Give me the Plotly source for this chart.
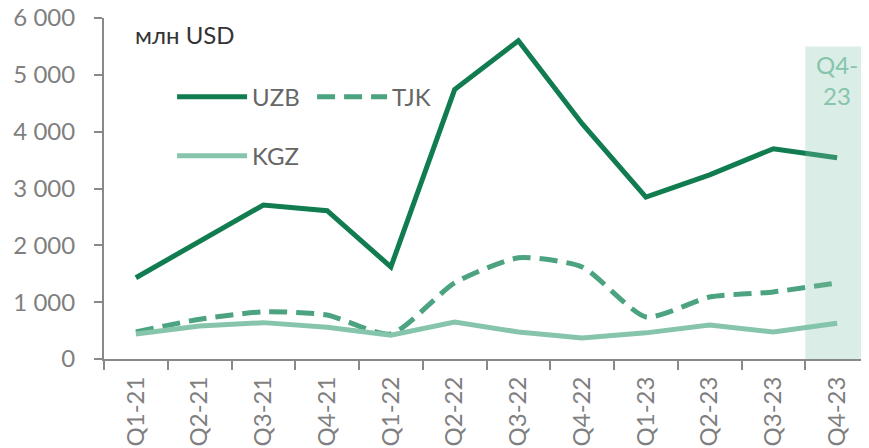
import plotly.graph_objects as go

categories = ['Q1-21', 'Q2-21', 'Q3-21', 'Q4-21', 'Q1-22', 'Q2-22',
              'Q3-22', 'Q4-22', 'Q1-23', 'Q2-23', 'Q3-23', 'Q4-23']
uzb = [1430, 2080, 2710, 2610, 1620, 4740, 5600, 4140, 2850, 3240, 3700, 3540]
tjk = [475, 700, 830, 775, 440, 1340, 1780, 1620, 740, 1090, 1180, 1340]
kgz = [440, 580, 640, 560, 420, 650, 475, 370, 460, 600, 475, 630]

highlight_cat = 'Q4-23'
highlight_top = 5500
y_ticks = [0, 1000, 2000, 3000, 4000, 5000, 6000]
y_tick_labels = ['0', '1 000', '2 000', '3 000', '4 000', '5 000', '6 000']

FONT = 'Lato'
GREY = '#7f7f7f'

fig = go.Figure()
fig.add_trace(go.Scatter(x=categories, y=uzb, name='UZB', mode='lines',
                         line=dict(color='#107c50', width=5), legend='legend'))
fig.add_trace(go.Scatter(x=categories, y=tjk, name='TJK', mode='lines',
                         line=dict(color='#4ba37f', width=5, dash='18px,9px',
                                   shape='spline', smoothing=0.6),
                         legend='legend'))
fig.add_trace(go.Scatter(x=categories, y=kgz, name='KGZ', mode='lines',
                         line=dict(color='#86c5ac', width=5), legend='legend2'))

# highlighted last quarter (semi-transparent band drawn over the lines)
idx = categories.index(highlight_cat)
fig.add_shape(type='rect', xref='x', yref='y', x0=idx - 0.5, x1=idx + 0.5,
              y0=0, y1=highlight_top, fillcolor='#86c5ac', opacity=0.3,
              line_width=0, layer='above')
fig.add_annotation(x=highlight_cat, y=highlight_top, yanchor='top', yshift=-2,
                   text='Q4-<br>23', showarrow=False,
                   font=dict(family=FONT, size=24, color='#86c5ac'))
fig.add_annotation(xref='paper', yref='paper', x=0.038, y=1.0, xanchor='left',
                   yanchor='top', yshift=0, text='млн USD', showarrow=False,
                   font=dict(family=FONT, size=24, color='#333333'))

legend_style = dict(orientation='h', bgcolor='rgba(0,0,0,0)', itemwidth=70,
                    font=dict(family=FONT, size=24, color='#666666'),
                    xanchor='left', yanchor='middle', entrywidth=55,
                    entrywidthmode='pixels')

# the page body has an 8px default margin, so the figure is a bit smaller
fig.update_layout(
    width=861, height=440,
    margin=dict(l=96, r=0, t=10, b=89),
    paper_bgcolor='white', plot_bgcolor='white',
    showlegend=True,
    legend=dict(x=0.089, y=0.768, **legend_style),
    legend2=dict(x=0.089, y=0.595, **legend_style),
    font=dict(family=FONT, size=24, color=GREY),
)
fig.update_xaxes(type='category', range=[-0.5, len(categories) - 0.5],
                 showgrid=False, showline=True,
                 linecolor='#898989', linewidth=2, ticks='outside',
                 tickson='boundaries', ticklen=9, tickcolor='#898989',
                 tickwidth=2, tickangle=-90, automargin=False,
                 ticklabelstandoff=6, ticklabeloverflow='allow',
                 tickfont=dict(family=FONT, size=24, color=GREY))
fig.update_yaxes(range=[0, 6000], tickvals=y_ticks, ticktext=y_tick_labels,
                 showgrid=False, showline=True, linecolor='#898989',
                 linewidth=2, ticks='outside', ticklen=8,
                 tickcolor='#898989', tickwidth=2, zeroline=False,
                 automargin=False, ticklabelstandoff=14,
                 ticklabeloverflow='allow',
                 tickfont=dict(family=FONT, size=24, color=GREY))

fig.write_html('out.html')
